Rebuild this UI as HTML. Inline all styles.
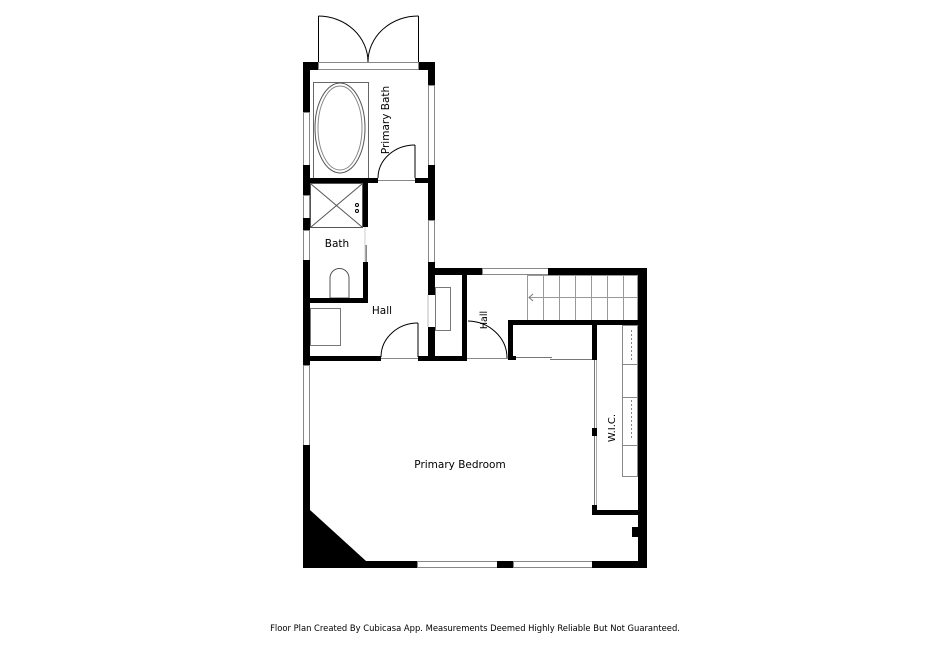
<!DOCTYPE html>
<html><head><style>
html,body{margin:0;padding:0;background:#fff;}
svg{display:block;}
text{font-family:"DejaVu Sans","Liberation Sans",sans-serif;fill:#000;}
</style></head><body>
<svg width="950" height="650" viewBox="0 0 950 650" xmlns="http://www.w3.org/2000/svg">
<g fill="none" stroke="#000" stroke-width="1">
  <line x1="318.5" y1="16" x2="318.5" y2="62"/>
  <line x1="418.5" y1="16" x2="418.5" y2="62"/>
  <path d="M318.5 16 A50 46 0 0 1 368 62"/>
  <path d="M418.5 16 A50 46 0 0 0 368 62"/>
  <rect x="318.5" y="62.5" width="100" height="7" stroke="#888"/>
  <rect x="313.5" y="82.5" width="55" height="96" stroke="#666"/>
  <ellipse cx="340" cy="128" rx="25" ry="45" stroke="#555"/>
  <ellipse cx="340" cy="128" rx="22" ry="42" stroke="#888"/>
  <line x1="415" y1="145" x2="415" y2="178"/>
  <path d="M415 145 A37 33 0 0 0 378 178"/>
  <line x1="378" y1="180.5" x2="415" y2="180.5" stroke="#888"/>
  <rect x="310.5" y="183.5" width="52" height="44" stroke="#555"/>
  <line x1="311" y1="184" x2="362" y2="227" stroke="#555"/>
  <line x1="362" y1="184" x2="311" y2="227" stroke="#555"/>
  <circle cx="357" cy="205" r="1.5"/><circle cx="357" cy="211" r="1.5"/>
  <path d="M330 298 L330 278 A9 9 0 0 1 349 278 L349 298 Z" stroke="#555"/>
  <line x1="366" y1="245" x2="366" y2="262" stroke="#888" stroke-width="2"/>
  <rect x="310.5" y="308.5" width="30" height="37" stroke="#777"/>
  <line x1="418" y1="323" x2="418" y2="357"/>
  <path d="M418 323 A37 34 0 0 0 381 357"/>
  <line x1="381" y1="358.5" x2="418" y2="358.5" stroke="#888"/>
  <rect x="435.5" y="287.5" width="15" height="43" stroke="#777"/>
  <path d="M468 321 A40 37 0 0 1 507 358"/>
  <line x1="467" y1="358.5" x2="508" y2="358.5" stroke="#888"/>
  <rect x="527.5" y="275.5" width="110" height="45" stroke="#999"/>
  <line x1="543.5" y1="275" x2="543.5" y2="321" stroke="#999"/>
  <line x1="559.5" y1="275" x2="559.5" y2="321" stroke="#999"/>
  <line x1="575.5" y1="275" x2="575.5" y2="321" stroke="#999"/>
  <line x1="591.5" y1="275" x2="591.5" y2="321" stroke="#999"/>
  <line x1="607.5" y1="275" x2="607.5" y2="321" stroke="#999"/>
  <line x1="623.5" y1="275" x2="623.5" y2="321" stroke="#999"/>
  <line x1="529" y1="297.5" x2="637" y2="297.5" stroke="#999"/>
  <path d="M533 294 L529 297.5 L533 301" stroke="#777"/>
  <line x1="513" y1="357.5" x2="552" y2="357.5" stroke="#777"/>
  <line x1="550" y1="359.5" x2="592" y2="359.5" stroke="#777"/>
  <line x1="594.5" y1="360" x2="594.5" y2="505" stroke="#777"/>
  <line x1="596.5" y1="360" x2="596.5" y2="505" stroke="#aaa"/>
  <rect x="622.5" y="325.5" width="15" height="151" stroke="#888"/>
  <line x1="622" y1="364.5" x2="638" y2="364.5" stroke="#888"/>
  <line x1="622" y1="397.5" x2="638" y2="397.5" stroke="#888"/>
  <line x1="622" y1="445.5" x2="638" y2="445.5" stroke="#888"/>
  <line x1="631.5" y1="330" x2="631.5" y2="360" stroke="#888" stroke-dasharray="2,2"/>
  <line x1="631.5" y1="400" x2="631.5" y2="440" stroke="#888" stroke-dasharray="2,2"/>
  <rect x="428.5" y="85.5" width="6" height="80" stroke="#888"/>
  <rect x="428.5" y="220.5" width="6" height="42" stroke="#888"/>
  <rect x="303.5" y="112.5" width="6" height="53" stroke="#888"/>
  <rect x="303.5" y="195.5" width="6" height="23" stroke="#888"/>
  <rect x="303.5" y="230.5" width="6" height="30" stroke="#888"/>
  <rect x="303.5" y="365.5" width="6" height="80" stroke="#888"/>
  <rect x="482.5" y="268.5" width="66" height="6" stroke="#888"/>
  <rect x="417.5" y="561.5" width="80" height="6" stroke="#888"/>
  <rect x="513.5" y="561.5" width="79" height="6" stroke="#888"/>
  <line x1="428" y1="295" x2="428" y2="327" stroke="#bbb"/>
  <line x1="365" y1="227" x2="365" y2="262" stroke="#ccc"/>
</g>
<g fill="#000">
  <rect x="303" y="62" width="7" height="50"/>
  <rect x="303" y="165" width="7" height="30"/>
  <rect x="303" y="218" width="7" height="12"/>
  <rect x="303" y="260" width="7" height="105"/>
  <rect x="303" y="445" width="7" height="123"/>
  <polygon points="310,510 366,561 310,561"/>
  <rect x="303" y="62" width="15" height="8"/>
  <rect x="419" y="62" width="16" height="8"/>
  <rect x="428" y="62" width="7" height="23"/>
  <rect x="428" y="165" width="7" height="55"/>
  <rect x="428" y="262" width="7" height="33"/>
  <rect x="428" y="327" width="7" height="33"/>
  <rect x="303" y="178" width="75" height="5"/>
  <rect x="415" y="178" width="20" height="5"/>
  <rect x="363" y="183" width="5" height="44"/>
  <rect x="363" y="262" width="5" height="41"/>
  <rect x="303" y="298" width="65" height="5"/>
  <rect x="303" y="356" width="78" height="5"/>
  <rect x="418" y="356" width="49" height="5"/>
  <rect x="428" y="268" width="54" height="7"/>
  <rect x="548" y="268" width="99" height="7"/>
  <rect x="638" y="268" width="9" height="300"/>
  <rect x="462" y="268" width="5" height="92"/>
  <rect x="508" y="320" width="5" height="40"/>
  <rect x="508" y="320" width="130" height="5"/>
  <rect x="592" y="320" width="5" height="40"/>
  <rect x="513" y="356" width="3" height="4"/>
  <rect x="592" y="428" width="5" height="8"/>
  <rect x="592" y="505" width="5" height="10"/>
  <rect x="592" y="510" width="46" height="5"/>
  <rect x="632" y="527" width="6" height="10"/>
  <rect x="303" y="561" width="114" height="7"/>
  <rect x="497" y="561" width="16" height="7"/>
  <rect x="592" y="561" width="55" height="7"/>
</g>
<text x="389" y="120" font-size="10.5" transform="rotate(-90 389 120)" text-anchor="middle">Primary Bath</text>
<text x="337" y="247" font-size="10.5" text-anchor="middle">Bath</text>
<text x="382" y="314" font-size="10.5" text-anchor="middle">Hall</text>
<text x="487" y="320" font-size="9.5" transform="rotate(-90 487 320)" text-anchor="middle">Hall</text>
<text x="615" y="428" font-size="10" transform="rotate(-90 615 428)" text-anchor="middle">W.I.C.</text>
<text x="460" y="468" font-size="10.5" text-anchor="middle">Primary Bedroom</text>
<text x="475" y="631" font-size="8.4" text-anchor="middle">Floor Plan Created By Cubicasa App. Measurements Deemed Highly Reliable But Not Guaranteed.</text>
</svg>
</body></html>
